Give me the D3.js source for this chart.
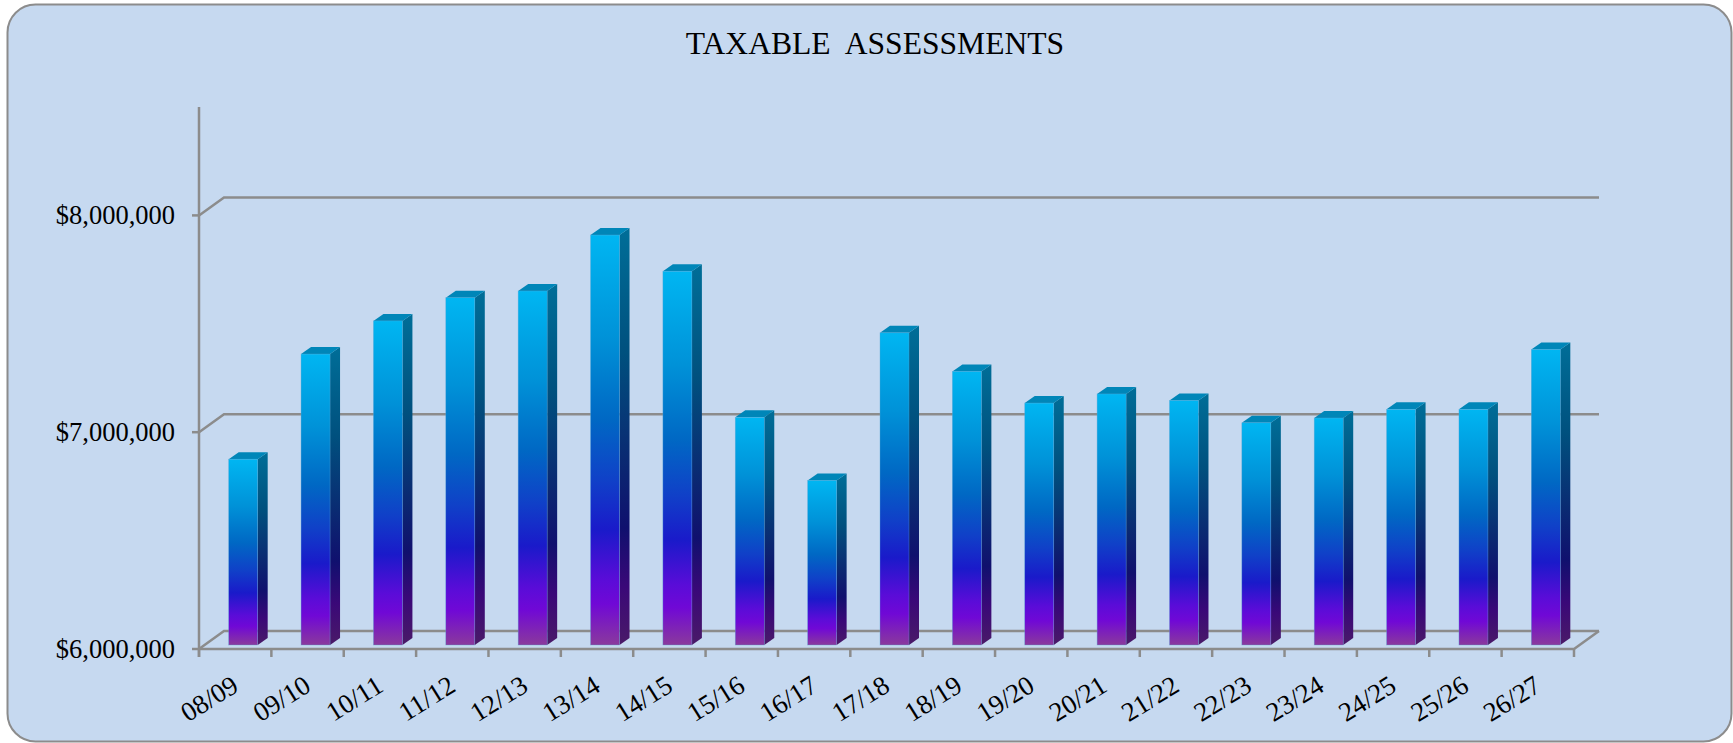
<!DOCTYPE html>
<html><head><meta charset="utf-8">
<script src="https://cdn.jsdelivr.net/npm/d3@7"></script>
<style>html,body{margin:0;padding:0;background:#fff;overflow:hidden}svg{display:block}</style>
</head><body>
<svg id="chart" width="1733" height="743"></svg>
<script>
const title = "TAXABLE  ASSESSMENTS";
const categories = ["08/09","09/10","10/11","11/12","12/13","13/14","14/15","15/16","16/17","17/18","18/19","19/20","20/21","21/22","22/23","23/24","24/25","25/26","26/27"];
const values = [6857000,7342000,7495000,7602000,7633000,7891000,7724000,7050000,6759000,7440000,7262000,7116000,7158000,7128000,7025000,7047000,7087000,7087000,7363000];
const yTicks = [6000000,7000000,8000000];
const yDomain = [6000000,8500000];

(function(){
const svg = d3.select("#chart");
const pLeft = 199, pRight = 1574, pBottom = 649, pTop = 107;
const dx = 25, dy = 18;           // floor depth
const bdx = 10, bdy = 7;          // bar depth
const barW = 29;

const x = d3.scaleBand().domain(categories).range([pLeft, pRight]).paddingInner(0).paddingOuter(0);
const y = d3.scaleLinear().domain(yDomain).range([pBottom, pTop]);

const defs = svg.append("defs");
const gf = defs.append("linearGradient").attr("id","gFront").attr("x1",0).attr("y1",0).attr("x2",0).attr("y2",1);
[[0,"#00B6F2"],[0.25,"#0092D8"],[0.45,"#0068C4"],[0.6,"#1040C8"],[0.72,"#1A1ACA"],[0.84,"#5A0CD8"],[0.9,"#7008D6"],[1,"#8A3A9C"]]
  .forEach(([o,c])=>gf.append("stop").attr("offset",o).attr("stop-color",c));
const gs = defs.append("linearGradient").attr("id","gSide").attr("x1",0).attr("y1",0).attr("x2",0).attr("y2",1);
[[0,"#006E98"],[0.3,"#00507E"],[0.55,"#0A2A72"],[0.72,"#10106E"],[0.86,"#3A0878"],[1,"#4A1A68"]]
  .forEach(([o,c])=>gs.append("stop").attr("offset",o).attr("stop-color",c));

// frame
svg.append("rect").attr("x",7.5).attr("y",4.5).attr("width",1724).attr("height",737)
  .attr("rx",28).attr("ry",28).attr("fill","#C6D9F0").attr("stroke","#8C8C8C").attr("stroke-width",2);

// title
svg.append("text").attr("x",875).attr("y",54).attr("text-anchor","middle")
  .attr("font-family","'Liberation Serif','Times New Roman',serif").attr("font-size",31.6)
  .attr("fill","#000").style("white-space","pre").text(title);

const gridC = "#8C8C8C";
const grid = svg.append("g").attr("stroke",gridC).attr("stroke-width",2.5).attr("fill","none");
yTicks.forEach(t=>{
  const yy = y(t);
  grid.append("path").attr("d",`M${pLeft},${yy} L${pLeft+dx},${yy-dy} L${pRight+dx},${yy-dy}`);
});
grid.append("path").attr("d",`M${pLeft},${pBottom} L${pRight},${pBottom} L${pRight+dx},${pBottom-dy}`);
grid.append("line").attr("x1",pLeft).attr("x2",pLeft).attr("y1",pTop).attr("y2",pBottom+8);
yTicks.forEach(t=>{
  grid.append("line").attr("x1",pLeft-7).attr("x2",pLeft).attr("y1",y(t)).attr("y2",y(t));
});
categories.forEach(c=>{
  const xx = x(c);
  grid.append("line").attr("x1",xx).attr("x2",xx).attr("y1",pBottom).attr("y2",pBottom+8);
});
grid.append("line").attr("x1",pRight).attr("x2",pRight).attr("y1",pBottom).attr("y2",pBottom+8);

svg.append("g").selectAll("text").data(yTicks).join("text")
  .attr("x",175).attr("y",d=>y(d)+9).attr("text-anchor","end")
  .attr("font-family","'Liberation Serif','Times New Roman',serif").attr("font-size",26.5).attr("fill","#000")
  .text(d=>"$"+d3.format(",")(d));

const bars = svg.append("g");
const fshift = 4;
categories.forEach((c,i)=>{
  const v = values[i];
  const cx = x(c) + x.bandwidth()/2 + 8;
  const x0 = cx - barW/2, x1 = cx + barW/2;
  const yb = y(yDomain[0]) - fshift;
  const yt = y(v) - fshift;
  const g = bars.append("g");
  g.append("path").attr("d",`M${x1},${yt} L${x1+bdx},${yt-bdy} L${x1+bdx},${yb-bdy} L${x1},${yb} Z`)
    .attr("fill","url(#gSide)");
  g.append("path").attr("d",`M${x0},${yt} L${x0+bdx},${yt-bdy} L${x1+bdx},${yt-bdy} L${x1},${yt} Z`)
    .attr("fill","#0086B8");
  g.append("rect").attr("x",x0).attr("y",yt).attr("width",barW).attr("height",yb-yt)
    .attr("fill","url(#gFront)").attr("stroke","#5BA6D6").attr("stroke-width",0.6).attr("stroke-opacity",0.6);
});

svg.append("g").selectAll("text").data(categories).join("text")
  .attr("transform",d=>`translate(${x(d)+x.bandwidth()/2+5},${690}) rotate(-32)`)
  .attr("text-anchor","end")
  .attr("font-family","'Liberation Serif','Times New Roman',serif").attr("font-size",27).attr("fill","#000")
  .text(d=>d);
})();
</script>
</body></html>
